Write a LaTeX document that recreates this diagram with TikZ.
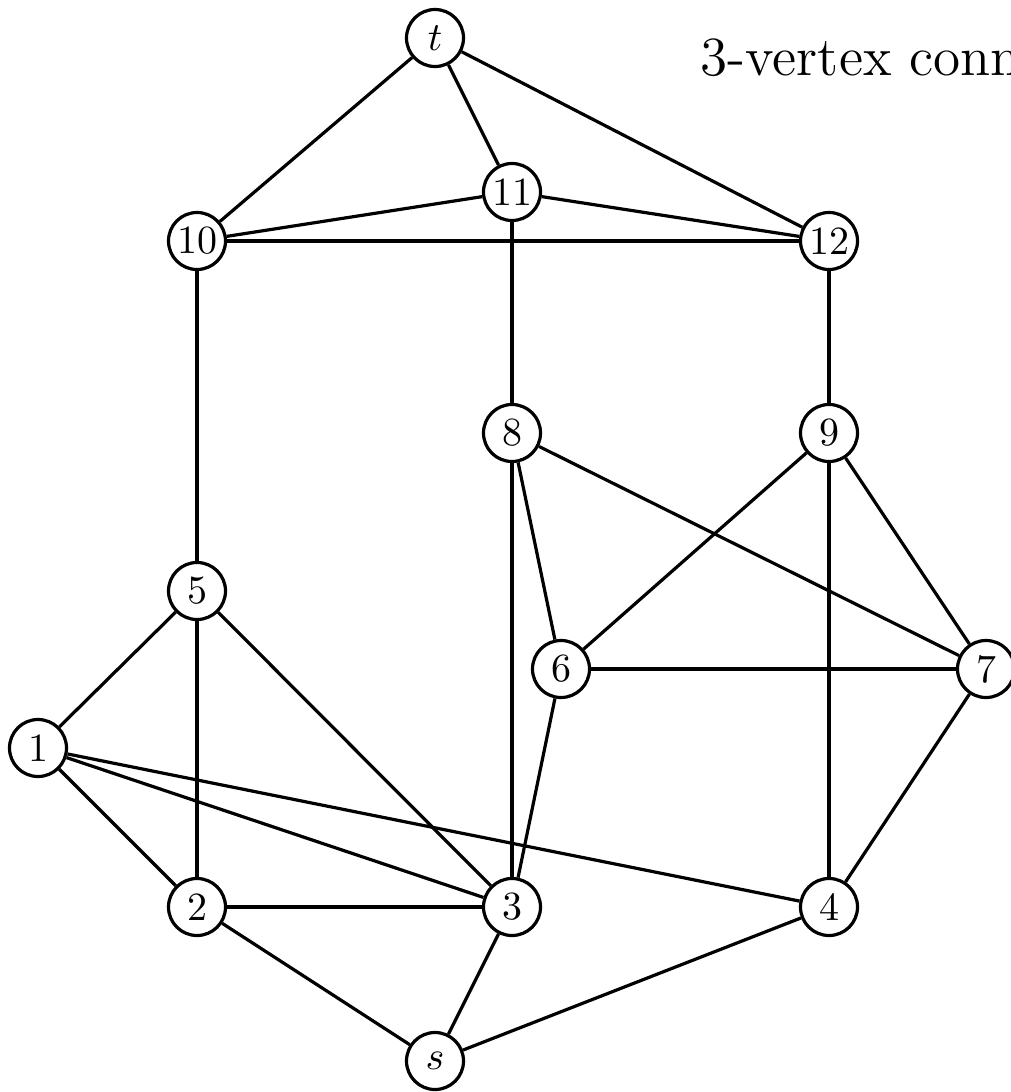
\documentclass[tikz,border=0pt]{standalone}
\begin{document}
\begin{tikzpicture}[x=0.25pt,y=-0.25pt,
  vertex/.style={circle,draw,line width=0.8pt,minimum size=14.25pt,inner sep=0pt,fill=white},
  edge/.style={line width=0.8pt}]
\useasboundingbox (0,0) rectangle (1010,1092);

% vertices
\node[vertex] (t)  at (435,38)   {$t$};
\node[vertex] (v11) at (512,192) {11};
\node[vertex] (v10) at (197,241) {10};
\node[vertex] (v12) at (829,241) {12};
\node[vertex] (v8) at (512,433)  {8};
\node[vertex] (v9) at (829,433)  {9};
\node[vertex] (v5) at (197,591)  {5};
\node[vertex] (v6) at (561,669)  {6};
\node[vertex] (v7) at (986,669)  {7};
\node[vertex] (v1) at (38,748)   {1};
\node[vertex] (v2) at (197,907)  {2};
\node[vertex] (v3) at (512,907)  {3};
\node[vertex] (v4) at (829,907)  {4};
\node[vertex] (s)  at (435,1061) {$s$};

% caption
\node[anchor=base west,inner sep=0pt,font=\fontsize{13.8}{16}\selectfont] (caption) at (700,75) {3-vertex connected};

% edges
\draw[edge] (t) -- (v10);
\draw[edge] (t) -- (v11);
\draw[edge] (t) -- (v12);
\draw[edge] (v11) -- (v10);
\draw[edge] (v11) -- (v12);
\draw[edge] (v11) -- (v8);
\draw[edge] (v10) -- (v12);
\draw[edge] (v10) -- (v5);
\draw[edge] (v12) -- (v9);
\draw[edge] (v8) -- (v3);
\draw[edge] (v8) -- (v6);
\draw[edge] (v8) -- (v7);
\draw[edge] (v9) -- (v6);
\draw[edge] (v9) -- (v4);
\draw[edge] (v9) -- (v7);
\draw[edge] (v5) -- (v1);
\draw[edge] (v5) -- (v2);
\draw[edge] (v5) -- (v3);
\draw[edge] (v6) -- (v7);
\draw[edge] (v6) -- (v3);
\draw[edge] (v7) -- (v4);
\draw[edge] (v1) -- (v2);
\draw[edge] (v1) -- (v3);
\draw[edge] (v1) -- (v4);
\draw[edge] (v2) -- (v3);
\draw[edge] (v2) -- (s);
\draw[edge] (v3) -- (s);
\draw[edge] (v4) -- (s);
\end{tikzpicture}
\end{document}
